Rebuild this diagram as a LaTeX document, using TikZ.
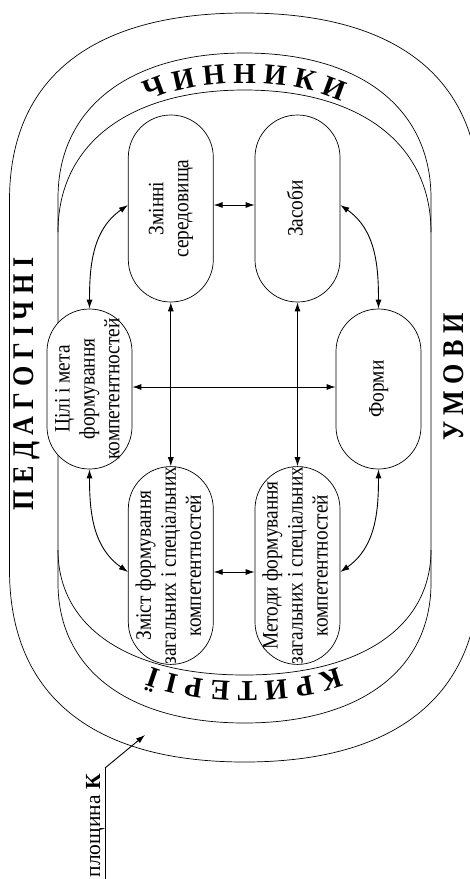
\documentclass[tikz,border=0pt]{standalone}
\usepackage{fontspec}
\usepackage{graphicx}
\setmainfont{Liberation Serif}
\newfontfamily\condfont[FakeStretch=0.88]{Liberation Serif}
\newfontfamily\bigcond[FakeStretch=0.87]{Liberation Serif}
\usetikzlibrary{arrows.meta,decorations.text}
\newcommand\arcfont{\bfseries\fontsize{29}{29}\selectfont}
\newcommand\boxtext[1]{\rotatebox{90}{\begin{tabular}{@{}c@{}}#1\end{tabular}}}
\begin{document}
\begin{tikzpicture}[x=1pt,y=1pt,
  shp/.style={line width=0.7pt},
  bx/.style={draw, line width=0.7pt, fill=white, rounded corners=42.4pt,
    minimum width=85pt, inner sep=0pt, font=\condfont\fontsize{22}{25}\selectfont},
  dbl/.style={line width=0.9pt, {Latex[length=9pt,width=6pt]}-{Latex[length=9pt,width=6pt]}},
  one/.style={line width=0.9pt, -{Latex[length=9pt,width=6pt]}},
  big/.style={rotate=90, inner sep=0pt, font=\bigcond\bfseries\fontsize{30}{30}\selectfont}]
\useasboundingbox (0,0) rectangle (470,-879);
\clip (0,0) rectangle (470,-879);
% outer contour
\draw[shp] (9.5,-200) .. controls (9.5,-78.45) and (91.75,-13) .. (244.5,-13)
  .. controls (397.25,-13) and (479.5,-78.45) .. (479.5,-200) -- (479.5,-570)
  .. controls (479.5,-694.8) and (397.25,-762) .. (244.5,-762)
  .. controls (91.75,-762) and (9.5,-694.8) .. (9.5,-570) -- cycle;
% middle contour
\draw[shp] (58,-198) .. controls (58,-108.1) and (128.9,-53) .. (244.5,-53)
  .. controls (360.1,-53) and (431,-108.1) .. (431,-198) -- (431,-583)
  .. controls (431,-669.8) and (360.1,-723) .. (244.5,-723)
  .. controls (128.9,-723) and (58,-669.8) .. (58,-583) -- cycle;
% inner arcs
\draw[shp] (58,-232) .. controls (58,-144) and (128.9,-90) .. (244.5,-90)
  .. controls (360.1,-90) and (431,-144) .. (431,-232);
\draw[shp] (58,-550) .. controls (58,-627.5) and (128.9,-675) .. (244.5,-675)
  .. controls (360.1,-675) and (431,-627.5) .. (431,-550);
% arc texts
\path[decorate, decoration={text along path, text align=center,
    text={|\arcfont|Ч И Н Н И К И}}]
  (66,-232) .. controls (66,-140) and (131,-83) .. (244.5,-83)
  .. controls (358,-83) and (423,-140) .. (423,-232);
\path[decorate, decoration={text along path, text align=center,
    text={|\arcfont|К Р И Т Е Р І Ї}}]
  (423,-550) .. controls (423,-632) and (358,-682) .. (244.5,-682)
  .. controls (131,-682) and (66,-632) .. (66,-550);
% side labels
\node[big] (ped) at (27,-384) {П Е Д А Г О Г І Ч Н І};
\node[big] (umo) at (454,-377) {У М О В И};
% boxes
\node[bx, minimum height=187pt] (zm) at (170.8,-208.5) {\boxtext{Змінні\\середовища}};
\node[bx, minimum height=187pt] (zs) at (297.5,-208.5) {\boxtext{Засоби}};
\node[bx, minimum height=160pt] (ct) at (89.5,-389) {\boxtext{Цілі і мета\\формування\\компетентностей}};
\node[bx, minimum height=160pt] (fm) at (378.5,-389) {\boxtext{Форми}};
\node[bx, minimum height=186pt] (zst) at (170.8,-565.5) {\boxtext{Зміст формування\\загальних і спеціальних\\компетентностей}};
\node[bx, minimum height=186pt] (mt) at (297.5,-565.5) {\boxtext{Методи формування\\загальних і спеціальних\\компетентностей}};
% connectors
\draw[dbl] ([yshift=3.5pt]zm.east) -- ([yshift=3.5pt]zs.west);
\draw[dbl] ([yshift=-6.5pt]zst.east) -- ([yshift=-6.5pt]mt.west);
\draw[dbl] (zm.south) -- (zst.north);
\draw[dbl] (zs.south) -- (mt.north);
\draw[dbl] ([yshift=2pt]ct.east) -- ([yshift=2pt]fm.west);
\draw[dbl] (ct.north) to[out=90,in=215] ([yshift=3.5pt]zm.west);
\draw[dbl] ([yshift=3.5pt]zs.east) to[out=-35,in=90] (fm.north);
\draw[dbl] (ct.south) to[out=-90,in=145] ([yshift=-6.5pt]zst.west);
\draw[dbl] (fm.south) to[out=-90,in=35] ([yshift=-6.5pt]mt.east);
% plane label
\coordinate (pk) at (105,-768);
\coordinate (pkend) at (105,-879);
\coordinate (pktip) at (145,-735);
\draw[line width=0.8pt] (pkend) -- (pk);
\draw[one] (pk) -- (pktip);
\node[rotate=90, anchor=base east, inner sep=0pt, font=\fontsize{21.5}{21.5}\selectfont] (pl) at (100,-774) {площина \textbf{К}};
\end{tikzpicture}
\end{document}
